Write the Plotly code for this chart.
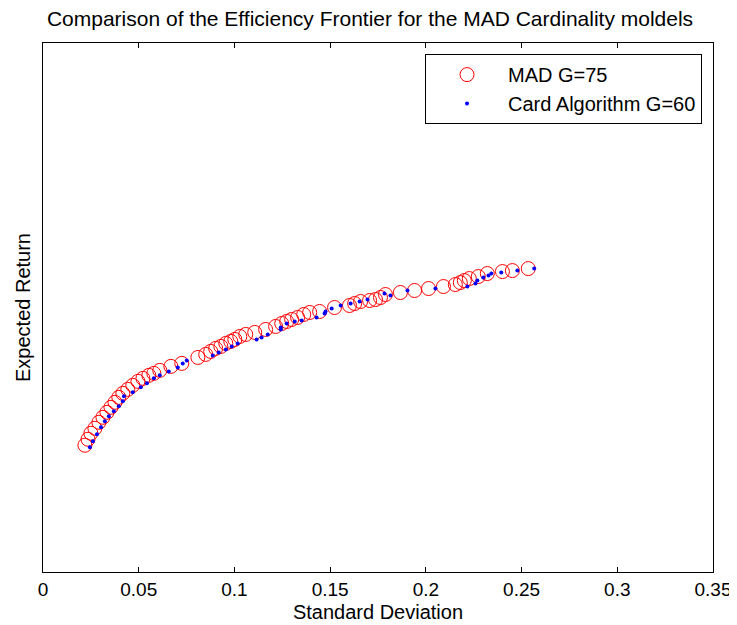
import plotly.graph_objects as go

# MAD G=75 (standard deviation, expected return)
mad_sd = [0.0219, 0.0235, 0.0250, 0.0271, 0.0292, 0.0313, 0.0334, 0.0355, 0.0376, 0.0396,
          0.0417, 0.0443, 0.0469, 0.0496, 0.0522, 0.0553, 0.0579, 0.0610, 0.0668, 0.0725,
          0.0809, 0.0850, 0.0876, 0.0902, 0.0929, 0.0955, 0.0981, 0.1002, 0.1028, 0.1059,
          0.1106, 0.1163, 0.1215, 0.1247, 0.1273, 0.1299, 0.1330, 0.1362, 0.1393, 0.1445,
          0.1523, 0.1601, 0.1628, 0.1659, 0.1706, 0.1737, 0.1763, 0.1789, 0.1867, 0.1941,
          0.2014, 0.2092, 0.2154, 0.2180, 0.2201, 0.2227, 0.2274, 0.2321, 0.2400, 0.2452,
          0.2535]
mad_ret = [0.0127, 0.0133, 0.0139, 0.0144, 0.0150, 0.0155, 0.0160, 0.0165, 0.0170, 0.0175,
           0.0179, 0.0183, 0.0187, 0.0191, 0.0194, 0.0197, 0.0199, 0.0202, 0.0206, 0.0209,
           0.0215, 0.0218, 0.0221, 0.0224, 0.0226, 0.0229, 0.0231, 0.0233, 0.0236, 0.0238,
           0.0240, 0.0243, 0.0246, 0.0249, 0.0251, 0.0253, 0.0255, 0.0258, 0.0260, 0.0261,
           0.0265, 0.0267, 0.0269, 0.0271, 0.0272, 0.0273, 0.0275, 0.0278, 0.0280, 0.0282,
           0.0284, 0.0286, 0.0288, 0.0290, 0.0292, 0.0294, 0.0296, 0.0299, 0.0301, 0.0302,
           0.0304]

# Card Algorithm G=60
card_sd = [0.0245, 0.0261, 0.0282, 0.0303, 0.0323, 0.0344, 0.0370, 0.0396, 0.0417, 0.0423,
           0.0469, 0.0511, 0.0543, 0.0579, 0.0610, 0.0657, 0.0704, 0.0730, 0.0751, 0.0887,
           0.0918, 0.0955, 0.0986, 0.1017, 0.1116, 0.1142, 0.1174, 0.1242, 0.1242, 0.1273,
           0.1315, 0.1351, 0.1429, 0.1471, 0.1476, 0.1508, 0.1555, 0.1607, 0.1654, 0.1695,
           0.1784, 0.1815, 0.1904, 0.2050, 0.2217, 0.2259, 0.2269, 0.2300, 0.2327, 0.2342,
           0.2394, 0.2478, 0.2566]
card_ret = [0.0125, 0.0131, 0.0138, 0.0145, 0.0151, 0.0156, 0.0161, 0.0166, 0.0171, 0.0176,
            0.0180, 0.0185, 0.0189, 0.0194, 0.0197, 0.0201, 0.0205, 0.0209, 0.0212, 0.0217,
            0.0220, 0.0223, 0.0226, 0.0229, 0.0233, 0.0235, 0.0238, 0.0243, 0.0245, 0.0249,
            0.0251, 0.0252, 0.0255, 0.0259, 0.0261, 0.0264, 0.0267, 0.0269, 0.0271, 0.0273,
            0.0279, 0.0277, 0.0282, 0.0284, 0.0286, 0.0289, 0.0292, 0.0295, 0.0297, 0.0299,
            0.0300, 0.0302, 0.0304]

x_ticks = [0, 0.05, 0.1, 0.15, 0.2, 0.25, 0.3, 0.35]
x_tick_labels = ["0", "0.05", "0.1", "0.15", "0.2", "0.25", "0.3", "0.35"]

font = "Liberation Sans, Arial, sans-serif"

fig = go.Figure()
fig.add_trace(go.Scatter(
    x=mad_sd, y=mad_ret, mode="markers", name="MAD G=75",
    marker=dict(symbol="circle-open", size=14, color="#ff0000", line=dict(width=1, color="#ff0000")),
))
fig.add_trace(go.Scatter(
    x=card_sd, y=card_ret, mode="markers", name="Card Algorithm G=60",
    marker=dict(symbol="circle", size=4, color="#0000ff"),
))

fig.update_layout(
    width=729, height=617,
    margin=dict(l=35, r=24, t=35, b=53, autoexpand=False),
    paper_bgcolor="white", plot_bgcolor="white",
    font=dict(family=font, size=19, color="black"),
    title=dict(text="Comparison of the Efficiency Frontier for the MAD Cardinality moldels",
               x=0.4966, xanchor="center", y=0.994, yanchor="top", pad=dict(t=0, b=0),
               font=dict(size=21, family=font)),
    showlegend=True,
    legend=dict(x=0.9836, y=0.979, xanchor="right", yanchor="top",
                bordercolor="black", borderwidth=1, bgcolor="white",
                font=dict(size=20, family=font), itemwidth=72,
                tracegroupgap=0),
    xaxis=dict(range=[0, 0.35], tickvals=x_ticks, ticktext=x_tick_labels,
               automargin=False,
               showgrid=False, zeroline=False, showline=True, linecolor="black",
               linewidth=1, mirror="ticks", ticks="inside", ticklen=5, tickcolor="black",
               tickfont=dict(size=19, family=font),
               title=dict(text="Standard Deviation", font=dict(size=20, family=font), standoff=6)),
    yaxis=dict(range=[0, 0.0530], showticklabels=False, ticks="",
               automargin=False,
               showgrid=False, zeroline=False, showline=True, linecolor="black",
               linewidth=1, mirror=True,
               title=dict(text="Expected Return", font=dict(size=20, family=font), standoff=6)),
)

fig.write_html("out.html")
